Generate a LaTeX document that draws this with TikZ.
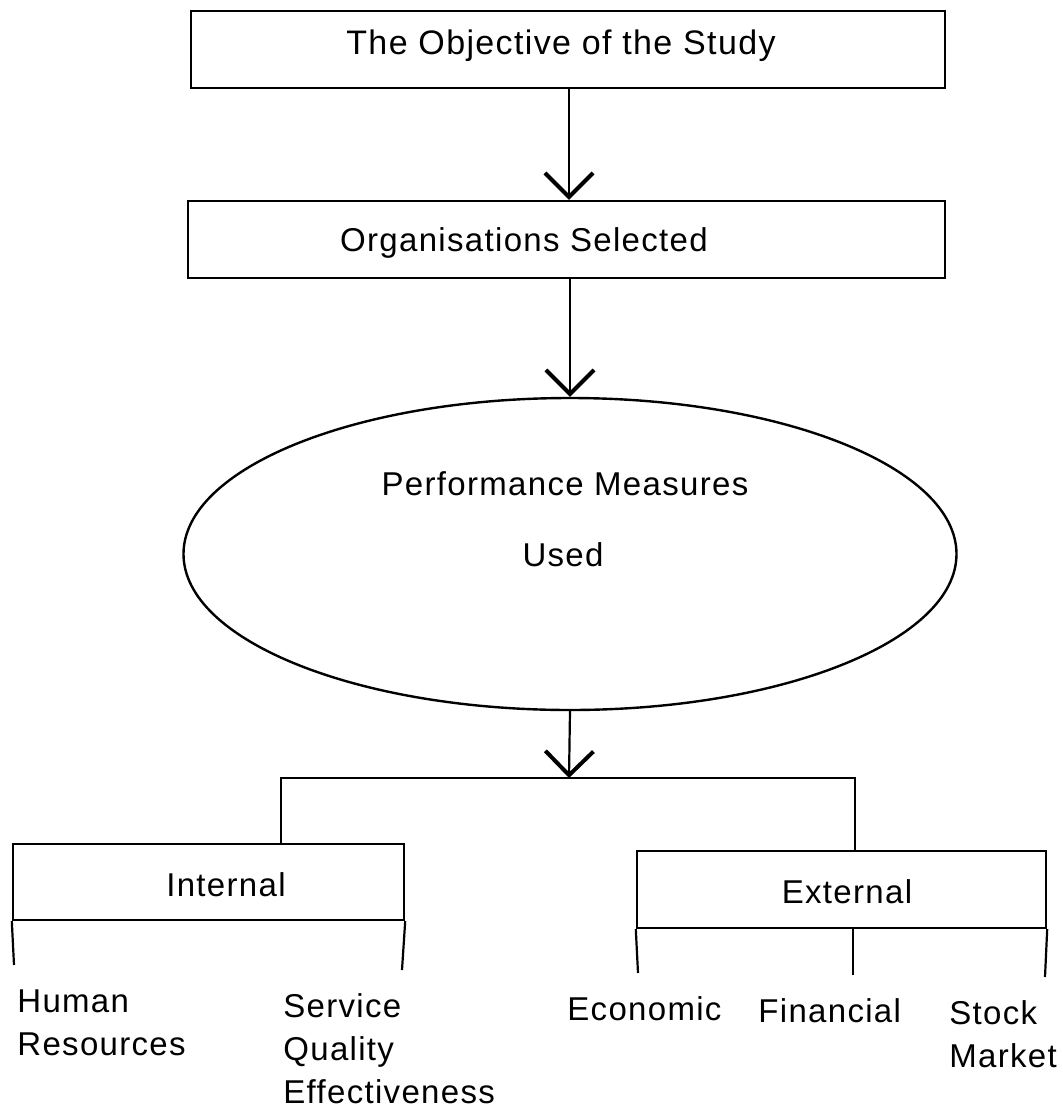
\documentclass[tikz,border=0pt]{standalone}
\usepackage{fontspec}
\setmainfont{Liberation Sans}[LetterSpace=4]
\usetikzlibrary{arrows.meta}
\usetikzlibrary{shapes.geometric}
\tikzset{
  box/.style = {draw=black, line width=1.2pt, rectangle, inner sep=0pt},
  oval/.style = {draw=black, line width=1.2pt, ellipse, inner sep=0pt},
  link/.style = {color=black, line width=1.1pt},
  flow/.style = {link, -{Straight Barb[length=12pt, width=24pt, line width=2pt]}},
  label/.style = {inner sep=0pt, font=\fontsize{16.5}{21.5}\selectfont},
  leaf/.style = {label, align=left, anchor=north west}
}

\begin{document}
\begin{tikzpicture}[x=0.5pt, y=-0.5pt]
    \useasboundingbox (0,0) rectangle (1062,1110);

    %==== Upper chain ====
    % Body
    \node[box, minimum width=377pt, minimum height=38.5pt] (obj) at (568,49.5) {};
    \node[box, minimum width=378.5pt, minimum height=38.5pt] (sel) at (566.5,239.5) {};
    \node[oval, minimum width=386.5pt, minimum height=156pt] (pm) at (570,554) {};

    % Labels
    \node[label, anchor=base] (objText) at (561,54) {\fontsize{17}{21.5}\selectfont The Objective of the Study};
    \node[label, anchor=base] (selText) at (524,251) {Organisations Selected};
    \node[label, anchor=base] (pmText) at (565,495) {Performance Measures};
    \node[label, anchor=base] (usedText) at (563,566) {Used};

    % Coordinates
    \coordinate (split) at (569,778);
    \coordinate (intJoin) at (281,778);
    \coordinate (extJoin) at (855,778);

    % Arrows
    \draw[flow] (obj.south -| split) -- (sel.north -| split);
    \draw[flow] (sel.south -| pm.north) -- (pm.north);
    \draw[flow] (pm.south) -- (split);

    %==== Lower split ====
    % Body
    \node[box, minimum width=195.5pt, minimum height=38pt] (int) at (208.5,882) {};
    \node[box, minimum width=204.5pt, minimum height=38.5pt] (ext) at (841.5,889.5) {};
    \node[label, anchor=base] (intText) at (226,896) {Internal};
    \node[label, anchor=base] (extText) at (847,903) {External};

    % Branches
    \draw[link] (int.north -| intJoin) -- (intJoin) -- (extJoin) -- (ext.north -| extJoin);

    % Stubs
    \coordinate (hrEnd) at (14,965);
    \coordinate (sqEnd) at (402,970);
    \coordinate (ecoEnd) at (638,973);
    \coordinate (finEnd) at (853,975);
    \coordinate (stEnd) at (1045,977);
    \draw[link] (int.south west) -- (hrEnd);
    \draw[link] (int.south east) -- (sqEnd);
    \draw[link] (ext.south west) -- (ecoEnd);
    \draw[link] (ext.south -| finEnd) -- (finEnd);
    \draw[link] (ext.south east) -- (stEnd);

    % Leaves
    \node[leaf] (hr) at (17,989.5) {Human\\Resources};
    \node[leaf] (sq) at (283,993.5) {Service\\Quality\\Effectiveness};
    \node[label, anchor=base west] (eco) at (567,1020) {Economic};
    \node[label, anchor=base west] (fin) at (758,1022) {Financial};
    \node[leaf] (st) at (949,1000.5) {Stock\\Market};
\end{tikzpicture}
\end{document}
